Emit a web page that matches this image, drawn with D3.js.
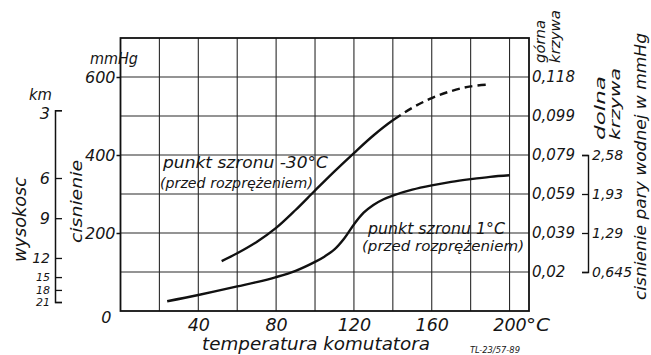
<!DOCTYPE html>
<html>
<head>
<meta charset="utf-8">
<script src="https://cdn.jsdelivr.net/npm/d3@7"></script>
<style>
  html, body { margin: 0; padding: 0; background: #fff; }
  svg { display: block; }
  text { font-family: "DejaVu Sans", sans-serif; font-style: italic; fill: #151515; }
</style>
</head>
<body>
<script>
// ---------- data ----------
const tempTicks = [40, 80, 120, 160, 200];
const tempGrid = [20, 40, 60, 80, 100, 120, 140, 160, 180, 200];
const pressureTicks = [0, 200, 400, 600];
const pressureGrid = [100, 200, 300, 400, 500, 600];

// upper curve: punkt szronu -30°C (solid part, then dashed continuation)
const upperTemp = [52, 60, 70, 80, 90, 100, 110, 120, 130, 140];
const upperPress = [128, 148, 177, 213, 259, 309, 358, 405, 450, 489];
const upperDashTemp = [150, 160, 170, 180, 190];
const upperDashPress = [521, 546, 564, 576, 581];
const upperDashStart = 144;

// lower curve: punkt szronu 1°C
const lowerTemp = [24, 40, 60, 70, 80, 90, 100, 105, 110, 115, 120, 125, 130, 135, 140, 150, 160, 170, 180, 190, 200];
const lowerPress = [25, 41, 63, 74, 87, 103, 126, 140, 158, 186, 222, 252, 272, 286, 296, 311, 322, 331, 338, 344, 348];

// altitude scale (km) placed against pressure
const kmLabels = ["3", "6", "9", "12", "15", "18", "21"];
const kmPressure = [515, 341, 238, 136, 87, 54, 23];

// right scales
const upperCurveLabels = ["0,02", "0,039", "0,059", "0,079", "0,099", "0,118"];
const upperCurvePress = [100, 200, 300, 400, 500, 600];
const lowerCurveLabels = ["0,645", "1,29", "1,93", "2,58"];
const lowerCurvePress = [100, 200, 300, 400];

// ---------- drawing ----------
const W = 651, H = 355;
const svg = d3.select("body").append("svg").attr("width", W).attr("height", H);

const x = d3.scaleLinear().domain([0, 210]).range([120.5, 529]);
const y = d3.scaleLinear().domain([0, 700]).range([311, 38]);

// grid
const grid = svg.append("g").attr("stroke", "#2a2a2a").attr("stroke-width", 1.1);
grid.selectAll("line.v").data(tempGrid).join("line")
  .attr("x1", d => x(d)).attr("x2", d => x(d)).attr("y1", y(700)).attr("y2", y(0));
grid.selectAll("line.h").data(pressureGrid).join("line")
  .attr("y1", d => y(d)).attr("y2", d => y(d)).attr("x1", x(0)).attr("x2", x(210));

// frame
svg.append("rect").attr("x", x(0)).attr("y", y(700))
  .attr("width", x(210) - x(0)).attr("height", y(0) - y(700))
  .attr("fill", "none").attr("stroke", "#111").attr("stroke-width", 1.8);

// curves
const line = d3.line().x(d => x(d[0])).y(d => y(d[1])).curve(d3.curveCatmullRom.alpha(0.5));
const zip = (a, b) => a.map((v, i) => [v, b[i]]);

// upper curve drawn as one smooth path: solid up to upperDashStart, dashed after
const upperAll = zip(upperTemp.concat(upperDashTemp), upperPress.concat(upperDashPress));
const upPath = svg.append("path").attr("d", line(upperAll))
  .attr("fill", "none").attr("stroke", "#111").attr("stroke-width", 2.4);
{
  const node = upPath.node();
  const total = node.getTotalLength();
  const xSplit = x(upperDashStart);
  let lo = 0, hi = total;
  for (let k = 0; k < 40; k++) {
    const mid = (lo + hi) / 2;
    if (node.getPointAtLength(mid).x < xSplit) lo = mid; else hi = mid;
  }
  const dashes = [lo];
  let acc = lo;
  while (acc < total + 20) { dashes.push(5, 8); acc += 13; }
  dashes.push(5);
  upPath.attr("stroke-dasharray", dashes.join(","));
}

svg.append("path").attr("d", line(zip(lowerTemp, lowerPress)))
  .attr("fill", "none").attr("stroke", "#111").attr("stroke-width", 2.4);

// left pressure axis
const axL = svg.append("g").attr("transform", `translate(${x(0)},0)`)
  .call(d3.axisLeft(y).tickValues(pressureTicks).tickFormat(d3.format("d")).tickSizeInner(4).tickSizeOuter(0).tickPadding(1));
axL.select(".domain").remove();
axL.selectAll("line").attr("stroke", "#111").attr("stroke-width", 1.5);
axL.selectAll("text").attr("font-size", 16).attr("font-family", "DejaVu Sans").attr("font-style", "italic").attr("fill", "#151515");
axL.selectAll(".tick").filter(d => d === 0).select("text").attr("dy", "0.7em").attr("x", -9);
axL.selectAll(".tick").filter(d => d === 0).select("line").remove();

// bottom temperature axis
const axB = svg.append("g").attr("transform", `translate(0,${y(0)})`)
  .call(d3.axisBottom(x).tickValues(tempTicks).tickSize(0).tickPadding(8));
axB.select(".domain").remove();
axB.selectAll("text").attr("font-size", 17.5).attr("font-family", "Liberation Sans").attr("font-style", "italic").attr("fill", "#151515");

// km axis
const yKm = y.copy().domain([kmPressure[kmPressure.length - 1], kmPressure[0]])
  .range([y(kmPressure[kmPressure.length - 1]), y(kmPressure[0])]);
const axKm = svg.append("g").attr("transform", "translate(55,0)")
  .call(d3.axisLeft(yKm).tickValues(kmPressure).tickFormat((d, i) => kmLabels[i])
    .tickSizeInner(-7).tickSizeOuter(-7).tickPadding(5));
axKm.select(".domain").attr("stroke", "#111").attr("stroke-width", 1.5);
axKm.selectAll("line").attr("stroke", "#111").attr("stroke-width", 1.3);
axKm.selectAll("text").attr("font-family", "DejaVu Sans").attr("font-style", "italic").attr("fill", "#151515")
  .attr("font-size", (d, i) => i < 3 ? 16 : (i === 3 ? 14 : 11))
  .attr("dy", (d, i) => i === 0 ? "0.5em" : "0.32em");

// right scale 1 (górna krzywa)
const axR1 = svg.append("g").attr("transform", `translate(${x(210)},0)`)
  .call(d3.axisRight(y).tickValues(upperCurvePress).tickFormat((d, i) => upperCurveLabels[i]).tickSize(0).tickPadding(3));
axR1.select(".domain").remove();
axR1.selectAll("text").attr("font-size", 15).attr("font-family", "DejaVu Sans").attr("font-style", "italic").attr("fill", "#151515");

// right scale 2 (dolna krzywa)
const yR2 = y.copy().domain([lowerCurvePress[0], lowerCurvePress[lowerCurvePress.length - 1]])
  .range([y(lowerCurvePress[0]), y(lowerCurvePress[lowerCurvePress.length - 1])]);
const axR2 = svg.append("g").attr("transform", "translate(588,0)")
  .call(d3.axisRight(yR2).tickValues(lowerCurvePress).tickFormat((d, i) => lowerCurveLabels[i])
    .tickSizeInner(-6).tickSizeOuter(-6).tickPadding(4));
axR2.select(".domain").attr("stroke", "#111").attr("stroke-width", 1.4);
axR2.selectAll("line").attr("stroke", "#111").attr("stroke-width", 1.3);
axR2.selectAll("text").attr("font-size", 14).attr("font-family", "DejaVu Sans").attr("font-style", "italic").attr("fill", "#151515");

// ---------- texts ----------
function txt(s, px, py, size, opts = {}) {
  const t = svg.append("text").attr("x", px).attr("y", py).attr("font-size", size).text(s);
  if (opts.len) t.attr("textLength", opts.len).attr("lengthAdjust", "spacingAndGlyphs");
  if (opts.anchor) t.attr("text-anchor", opts.anchor);
  return t;
}
function rtxt(s, px, py, size, len) {
  const t = svg.append("text").attr("transform", `translate(${px},${py}) rotate(-90)`)
    .attr("font-size", size).text(s);
  if (len) t.attr("textLength", len).attr("lengthAdjust", "spacingAndGlyphs");
  return t;
}

txt("mmHg", 90, 64, 15, { len: 48 });
txt("km", 29, 100, 16, { len: 23 });
txt("°C", 526, 331, 18, { len: 24 });

txt("punkt szronu -30°C", 163, 168, 15, { len: 165 });
txt("(przed rozprężeniem)", 160, 188, 14.5, { len: 153 });
txt("punkt szronu 1°C", 368, 234, 15, { len: 137 });
txt("(przed rozprężeniem)", 362, 251, 14.5, { len: 162 });

txt("temperatura komutatora", 202, 350, 17, { len: 228 });
txt("TL-23/57-89", 470, 353, 8.5, { len: 50 });

rtxt("wysokosc", 26, 262, 17, 85);
rtxt("cisnienie", 82, 243, 16, 83);
rtxt("górna", 545, 63, 13.5, 43);
rtxt("krzywa", 560, 63, 13.5, 53);
rtxt("dolna", 605, 140, 13.5, 64);
rtxt("krzywa", 620, 140, 13.5, 72);
rtxt("cisnienie pary wodnej w mmHg", 646, 300, 16, 267);
</script>
</body>
</html>
